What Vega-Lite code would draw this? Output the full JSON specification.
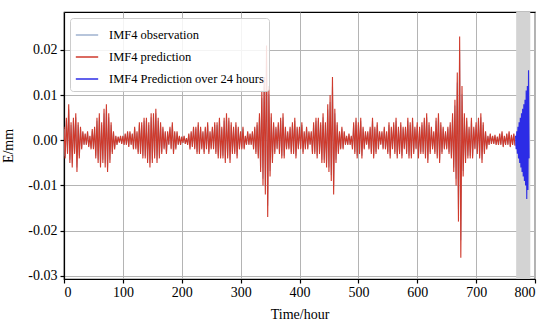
{
  "$schema": "https://vega.github.io/schema/vega-lite/v6.json",
  "width": 471,
  "height": 267,
  "autosize": "none",
  "padding": {"left": 64, "top": 12, "right": 15, "bottom": 45},
  "background": "white",
  "config": {
    "font": "Times New Roman",
    "view": {"stroke": "black", "strokeWidth": 1.2},
    "axis": {
      "labelFont": "Times New Roman",
      "titleFont": "Times New Roman",
      "labelFontSize": 14,
      "titleFontSize": 14,
      "titleFontWeight": "normal",
      "labelColor": "black",
      "titleColor": "black",
      "grid": true,
      "gridColor": "#b4b4b4",
      "gridOpacity": 1,
      "gridWidth": 1,
      "domainColor": "black",
      "domainWidth": 1.2,
      "tickColor": "black",
      "tickWidth": 1.2
    },
    "legend": {
      "labelFont": "Times New Roman",
      "labelFontSize": 12.5,
      "labelColor": "black",
      "labelLimit": 0
    }
  },
  "datasets": {
    "series": [
      {"t":0,"o":0.0025,"p":0.003},{"t":2,"o":-0.0035,"p":-0.004},{"t":4,"o":0.0042,"p":0.005},{"t":6,"o":-0.0026,"p":-0.003},{"t":8,"o":0.0068,"p":0.008},
      {"t":10,"o":-0.0043,"p":-0.005},{"t":12,"o":0.0034,"p":0.004},{"t":14,"o":-0.0051,"p":-0.006},{"t":16,"o":0.0043,"p":0.005},{"t":18,"o":-0.0026,"p":-0.003},
      {"t":20,"o":0.0051,"p":0.006},{"t":22,"o":-0.006,"p":-0.007},{"t":24,"o":0.0034,"p":0.004},{"t":26,"o":-0.0034,"p":-0.004},{"t":28,"o":0.0026,"p":0.003},
      {"t":30,"o":-0.0017,"p":-0.002},{"t":32,"o":0.0017,"p":0.002},{"t":34,"o":-0.0009,"p":-0.001},{"t":36,"o":0.0013,"p":0.0015},{"t":38,"o":-0.0009,"p":-0.001},
      {"t":40,"o":0.0017,"p":0.002},{"t":42,"o":-0.0013,"p":-0.0015},{"t":44,"o":0.0009,"p":0.001},{"t":46,"o":-0.0017,"p":-0.002},{"t":48,"o":0.0021,"p":0.0025},
      {"t":50,"o":-0.0017,"p":-0.002},{"t":52,"o":0.0026,"p":0.003},{"t":54,"o":-0.0034,"p":-0.004},{"t":56,"o":0.0043,"p":0.005},{"t":58,"o":-0.0043,"p":-0.005},
      {"t":60,"o":0.0051,"p":0.006},{"t":62,"o":-0.0051,"p":-0.006},{"t":64,"o":0.0034,"p":0.004},{"t":66,"o":-0.0043,"p":-0.005},{"t":68,"o":0.006,"p":0.007},
      {"t":70,"o":-0.0051,"p":-0.006},{"t":72,"o":0.0068,"p":0.008},{"t":74,"o":-0.006,"p":-0.007},{"t":76,"o":0.0051,"p":0.006},{"t":78,"o":-0.0043,"p":-0.005},
      {"t":80,"o":0.0034,"p":0.004},{"t":82,"o":-0.0026,"p":-0.003},{"t":84,"o":0.0017,"p":0.002},{"t":86,"o":-0.0017,"p":-0.002},{"t":88,"o":0.0009,"p":0.001},
      {"t":90,"o":-0.0009,"p":-0.001},{"t":92,"o":0.0007,"p":0.0008},{"t":94,"o":-0.0004,"p":-0.0005},{"t":96,"o":0.0009,"p":0.001},{"t":98,"o":-0.0007,"p":-0.0008},
      {"t":100,"o":0.0009,"p":0.001},{"t":102,"o":-0.0009,"p":-0.001},{"t":104,"o":0.0013,"p":0.0015},{"t":106,"o":-0.0009,"p":-0.001},{"t":108,"o":0.0017,"p":0.002},
      {"t":110,"o":-0.0013,"p":-0.0015},{"t":112,"o":0.0017,"p":0.002},{"t":114,"o":-0.0009,"p":-0.001},{"t":116,"o":0.0013,"p":0.0015},{"t":118,"o":-0.0017,"p":-0.002},
      {"t":120,"o":0.0026,"p":0.003},{"t":122,"o":-0.0017,"p":-0.002},{"t":124,"o":0.0017,"p":0.002},{"t":126,"o":-0.0026,"p":-0.003},{"t":128,"o":0.0034,"p":0.004},
      {"t":130,"o":-0.0026,"p":-0.003},{"t":132,"o":0.0034,"p":0.004},{"t":134,"o":-0.0034,"p":-0.004},{"t":136,"o":0.0043,"p":0.005},{"t":138,"o":-0.0034,"p":-0.004},
      {"t":140,"o":0.0043,"p":0.005},{"t":142,"o":-0.0043,"p":-0.005},{"t":144,"o":0.0034,"p":0.004},{"t":146,"o":-0.0051,"p":-0.006},{"t":148,"o":0.0051,"p":0.006},
      {"t":150,"o":-0.0043,"p":-0.005},{"t":152,"o":0.0051,"p":0.006},{"t":154,"o":-0.0034,"p":-0.004},{"t":156,"o":0.006,"p":0.007},{"t":158,"o":-0.0043,"p":-0.005},
      {"t":160,"o":0.0043,"p":0.005},{"t":162,"o":-0.0034,"p":-0.004},{"t":164,"o":0.0034,"p":0.004},{"t":166,"o":-0.0026,"p":-0.003},{"t":168,"o":0.0026,"p":0.003},
      {"t":170,"o":-0.0017,"p":-0.002},{"t":172,"o":0.0017,"p":0.002},{"t":174,"o":-0.0026,"p":-0.003},{"t":176,"o":0.0017,"p":0.002},{"t":178,"o":-0.0009,"p":-0.001},
      {"t":180,"o":0.0026,"p":0.003},{"t":182,"o":-0.0017,"p":-0.002},{"t":184,"o":0.0034,"p":0.004},{"t":186,"o":-0.0026,"p":-0.003},{"t":188,"o":0.0017,"p":0.002},
      {"t":190,"o":-0.0017,"p":-0.002},{"t":192,"o":0.0017,"p":0.002},{"t":194,"o":-0.0009,"p":-0.001},{"t":196,"o":0.0009,"p":0.001},{"t":198,"o":-0.0009,"p":-0.001},
      {"t":200,"o":0.0007,"p":0.0008},{"t":202,"o":-0.0005,"p":-0.0006},{"t":204,"o":0.0009,"p":0.001},{"t":206,"o":-0.0007,"p":-0.0008},{"t":208,"o":0.0004,"p":0.0005},
      {"t":210,"o":-0.0009,"p":-0.001},{"t":212,"o":0.0013,"p":0.0015},{"t":214,"o":-0.0017,"p":-0.002},{"t":216,"o":0.0017,"p":0.002},{"t":218,"o":-0.0013,"p":-0.0015},
      {"t":220,"o":0.0026,"p":0.003},{"t":222,"o":-0.0017,"p":-0.002},{"t":224,"o":0.0026,"p":0.003},{"t":226,"o":-0.0026,"p":-0.003},{"t":228,"o":0.0034,"p":0.004},
      {"t":230,"o":-0.0026,"p":-0.003},{"t":232,"o":0.0026,"p":0.003},{"t":234,"o":-0.0017,"p":-0.002},{"t":236,"o":0.0017,"p":0.002},{"t":238,"o":-0.0026,"p":-0.003},
      {"t":240,"o":0.0026,"p":0.003},{"t":242,"o":-0.0017,"p":-0.002},{"t":244,"o":0.0034,"p":0.004},{"t":246,"o":-0.0026,"p":-0.003},{"t":248,"o":0.0017,"p":0.002},
      {"t":250,"o":-0.0017,"p":-0.002},{"t":252,"o":0.0026,"p":0.003},{"t":254,"o":-0.0017,"p":-0.002},{"t":256,"o":0.0034,"p":0.004},{"t":258,"o":-0.0026,"p":-0.003},
      {"t":260,"o":0.0034,"p":0.004},{"t":262,"o":-0.0034,"p":-0.004},{"t":264,"o":0.0043,"p":0.005},{"t":266,"o":-0.0034,"p":-0.004},{"t":268,"o":0.0026,"p":0.003},
      {"t":270,"o":-0.0034,"p":-0.004},{"t":272,"o":0.0043,"p":0.005},{"t":274,"o":-0.0043,"p":-0.005},{"t":276,"o":0.0051,"p":0.006},{"t":278,"o":-0.0034,"p":-0.004},
      {"t":280,"o":0.0043,"p":0.005},{"t":282,"o":-0.0043,"p":-0.005},{"t":284,"o":0.0034,"p":0.004},{"t":286,"o":-0.0026,"p":-0.003},{"t":288,"o":0.0026,"p":0.003},
      {"t":290,"o":-0.0026,"p":-0.003},{"t":292,"o":0.0034,"p":0.004},{"t":294,"o":-0.0034,"p":-0.004},{"t":296,"o":0.0026,"p":0.003},{"t":298,"o":-0.0017,"p":-0.002},
      {"t":300,"o":0.0017,"p":0.002},{"t":302,"o":-0.0017,"p":-0.002},{"t":304,"o":0.0026,"p":0.003},{"t":306,"o":-0.0017,"p":-0.002},{"t":308,"o":0.0009,"p":0.001},
      {"t":310,"o":-0.0009,"p":-0.001},{"t":312,"o":0.0017,"p":0.002},{"t":314,"o":-0.0009,"p":-0.001},{"t":316,"o":0.0013,"p":0.0015},{"t":318,"o":-0.0009,"p":-0.001},
      {"t":320,"o":0.0017,"p":0.002},{"t":322,"o":-0.0017,"p":-0.002},{"t":324,"o":0.0026,"p":0.003},{"t":326,"o":-0.0026,"p":-0.003},{"t":328,"o":0.0034,"p":0.004},
      {"t":330,"o":-0.0034,"p":-0.004},{"t":332,"o":0.0051,"p":0.006},{"t":334,"o":-0.006,"p":-0.007},{"t":336,"o":0.0094,"p":0.011},{"t":338,"o":-0.0085,"p":-0.01},
      {"t":340,"o":0.0119,"p":0.014},{"t":342,"o":-0.0102,"p":-0.012},{"t":344,"o":0.0179,"p":0.021},{"t":346,"o":-0.0145,"p":-0.017},{"t":348,"o":0.0102,"p":0.012},
      {"t":350,"o":-0.0068,"p":-0.008},{"t":352,"o":0.0051,"p":0.006},{"t":354,"o":-0.0043,"p":-0.005},{"t":356,"o":0.0034,"p":0.004},{"t":358,"o":-0.0026,"p":-0.003},
      {"t":360,"o":0.0026,"p":0.003},{"t":362,"o":-0.0017,"p":-0.002},{"t":364,"o":0.0034,"p":0.004},{"t":366,"o":-0.0026,"p":-0.003},{"t":368,"o":0.0043,"p":0.005},
      {"t":370,"o":-0.0034,"p":-0.004},{"t":372,"o":0.0051,"p":0.006},{"t":374,"o":-0.0034,"p":-0.004},{"t":376,"o":0.0026,"p":0.003},{"t":378,"o":-0.0017,"p":-0.002},
      {"t":380,"o":0.0017,"p":0.002},{"t":382,"o":-0.0017,"p":-0.002},{"t":384,"o":0.0026,"p":0.003},{"t":386,"o":-0.0026,"p":-0.003},{"t":388,"o":0.0034,"p":0.004},
      {"t":390,"o":-0.0026,"p":-0.003},{"t":392,"o":0.0043,"p":0.005},{"t":394,"o":-0.0034,"p":-0.004},{"t":396,"o":0.0026,"p":0.003},{"t":398,"o":-0.0017,"p":-0.002},
      {"t":400,"o":0.0026,"p":0.003},{"t":402,"o":-0.0017,"p":-0.002},{"t":404,"o":0.0034,"p":0.004},{"t":406,"o":-0.0026,"p":-0.003},{"t":408,"o":0.0017,"p":0.002},
      {"t":410,"o":-0.0017,"p":-0.002},{"t":412,"o":0.0026,"p":0.003},{"t":414,"o":-0.0017,"p":-0.002},{"t":416,"o":0.0017,"p":0.002},{"t":418,"o":-0.0009,"p":-0.001},
      {"t":420,"o":0.0017,"p":0.002},{"t":422,"o":-0.0026,"p":-0.003},{"t":424,"o":0.0034,"p":0.004},{"t":426,"o":-0.0026,"p":-0.003},{"t":428,"o":0.0043,"p":0.005},
      {"t":430,"o":-0.0034,"p":-0.004},{"t":432,"o":0.0043,"p":0.005},{"t":434,"o":-0.0026,"p":-0.003},{"t":436,"o":0.0034,"p":0.004},{"t":438,"o":-0.0043,"p":-0.005},
      {"t":440,"o":0.0051,"p":0.006},{"t":442,"o":-0.0043,"p":-0.005},{"t":444,"o":0.0034,"p":0.004},{"t":446,"o":-0.0051,"p":-0.006},{"t":448,"o":0.0068,"p":0.008},
      {"t":450,"o":-0.006,"p":-0.007},{"t":452,"o":0.0085,"p":0.01},{"t":454,"o":-0.0077,"p":-0.009},{"t":456,"o":0.0119,"p":0.014},{"t":458,"o":-0.0102,"p":-0.012},
      {"t":460,"o":0.006,"p":0.007},{"t":462,"o":-0.0043,"p":-0.005},{"t":464,"o":0.0034,"p":0.004},{"t":466,"o":-0.0026,"p":-0.003},{"t":468,"o":0.0017,"p":0.002},
      {"t":470,"o":-0.0017,"p":-0.002},{"t":472,"o":0.0026,"p":0.003},{"t":474,"o":-0.0017,"p":-0.002},{"t":476,"o":0.0017,"p":0.002},{"t":478,"o":-0.0009,"p":-0.001},
      {"t":480,"o":0.0009,"p":0.001},{"t":482,"o":-0.0009,"p":-0.001},{"t":484,"o":0.0013,"p":0.0015},{"t":486,"o":-0.0009,"p":-0.001},{"t":488,"o":0.0009,"p":0.001},
      {"t":490,"o":-0.0017,"p":-0.002},{"t":492,"o":0.0034,"p":0.004},{"t":494,"o":-0.0026,"p":-0.003},{"t":496,"o":0.0043,"p":0.005},{"t":498,"o":-0.0034,"p":-0.004},
      {"t":500,"o":0.0034,"p":0.004},{"t":502,"o":-0.0026,"p":-0.003},{"t":504,"o":0.0043,"p":0.005},{"t":506,"o":-0.0034,"p":-0.004},{"t":508,"o":0.0026,"p":0.003},
      {"t":510,"o":-0.0017,"p":-0.002},{"t":512,"o":0.0017,"p":0.002},{"t":514,"o":-0.0009,"p":-0.001},{"t":516,"o":0.0017,"p":0.002},{"t":518,"o":-0.0017,"p":-0.002},
      {"t":520,"o":0.0026,"p":0.003},{"t":522,"o":-0.0026,"p":-0.003},{"t":524,"o":0.0043,"p":0.005},{"t":526,"o":-0.0034,"p":-0.004},{"t":528,"o":0.0026,"p":0.003},
      {"t":530,"o":-0.0026,"p":-0.003},{"t":532,"o":0.0034,"p":0.004},{"t":534,"o":-0.0017,"p":-0.002},{"t":536,"o":0.0017,"p":0.002},{"t":538,"o":-0.0009,"p":-0.001},
      {"t":540,"o":0.0017,"p":0.002},{"t":542,"o":-0.0017,"p":-0.002},{"t":544,"o":0.0026,"p":0.003},{"t":546,"o":-0.0017,"p":-0.002},{"t":548,"o":0.0017,"p":0.002},
      {"t":550,"o":-0.0026,"p":-0.003},{"t":552,"o":0.0034,"p":0.004},{"t":554,"o":-0.0034,"p":-0.004},{"t":556,"o":0.0026,"p":0.003},{"t":558,"o":-0.0017,"p":-0.002},
      {"t":560,"o":0.0034,"p":0.004},{"t":562,"o":-0.0026,"p":-0.003},{"t":564,"o":0.0043,"p":0.005},{"t":566,"o":-0.0034,"p":-0.004},{"t":568,"o":0.0026,"p":0.003},
      {"t":570,"o":-0.0026,"p":-0.003},{"t":572,"o":0.0034,"p":0.004},{"t":574,"o":-0.0034,"p":-0.004},{"t":576,"o":0.0026,"p":0.003},{"t":578,"o":-0.0017,"p":-0.002},
      {"t":580,"o":0.0026,"p":0.003},{"t":582,"o":-0.0026,"p":-0.003},{"t":584,"o":0.0043,"p":0.005},{"t":586,"o":-0.0034,"p":-0.004},{"t":588,"o":0.0034,"p":0.004},
      {"t":590,"o":-0.0034,"p":-0.004},{"t":592,"o":0.0043,"p":0.005},{"t":594,"o":-0.0026,"p":-0.003},{"t":596,"o":0.0026,"p":0.003},{"t":598,"o":-0.0017,"p":-0.002},
      {"t":600,"o":0.0034,"p":0.004},{"t":602,"o":-0.0034,"p":-0.004},{"t":604,"o":0.0026,"p":0.003},{"t":606,"o":-0.0026,"p":-0.003},{"t":608,"o":0.0034,"p":0.004},
      {"t":610,"o":-0.0026,"p":-0.003},{"t":612,"o":0.0043,"p":0.005},{"t":614,"o":-0.0034,"p":-0.004},{"t":616,"o":0.0051,"p":0.006},{"t":618,"o":-0.0043,"p":-0.005},
      {"t":620,"o":0.0034,"p":0.004},{"t":622,"o":-0.0026,"p":-0.003},{"t":624,"o":0.0026,"p":0.003},{"t":626,"o":-0.0017,"p":-0.002},{"t":628,"o":0.0017,"p":0.002},
      {"t":630,"o":-0.0026,"p":-0.003},{"t":632,"o":0.0043,"p":0.005},{"t":634,"o":-0.0034,"p":-0.004},{"t":636,"o":0.0051,"p":0.006},{"t":638,"o":-0.0043,"p":-0.005},
      {"t":640,"o":0.0034,"p":0.004},{"t":642,"o":-0.0026,"p":-0.003},{"t":644,"o":0.0026,"p":0.003},{"t":646,"o":-0.0017,"p":-0.002},{"t":648,"o":0.0017,"p":0.002},
      {"t":650,"o":-0.0017,"p":-0.002},{"t":652,"o":0.0026,"p":0.003},{"t":654,"o":-0.0026,"p":-0.003},{"t":656,"o":0.0034,"p":0.004},{"t":658,"o":-0.0034,"p":-0.004},
      {"t":660,"o":0.0051,"p":0.006},{"t":662,"o":-0.006,"p":-0.007},{"t":664,"o":0.0077,"p":0.009},{"t":666,"o":-0.0085,"p":-0.01},{"t":668,"o":0.0128,"p":0.015},
      {"t":670,"o":-0.0153,"p":-0.018},{"t":672,"o":0.0196,"p":0.023},{"t":674,"o":-0.0221,"p":-0.026},{"t":676,"o":0.0102,"p":0.012},{"t":678,"o":-0.0068,"p":-0.008},
      {"t":680,"o":0.0051,"p":0.006},{"t":682,"o":-0.0043,"p":-0.005},{"t":684,"o":0.0043,"p":0.005},{"t":686,"o":-0.0034,"p":-0.004},{"t":688,"o":0.0026,"p":0.003},
      {"t":690,"o":-0.0034,"p":-0.004},{"t":692,"o":0.0043,"p":0.005},{"t":694,"o":-0.0034,"p":-0.004},{"t":696,"o":0.0026,"p":0.003},{"t":698,"o":-0.0017,"p":-0.002},
      {"t":700,"o":0.0034,"p":0.004},{"t":702,"o":-0.0026,"p":-0.003},{"t":704,"o":0.0043,"p":0.005},{"t":706,"o":-0.0034,"p":-0.004},{"t":708,"o":0.0051,"p":0.006},
      {"t":710,"o":-0.0043,"p":-0.005},{"t":712,"o":0.0034,"p":0.004},{"t":714,"o":-0.0026,"p":-0.003},{"t":716,"o":0.0017,"p":0.002},{"t":718,"o":-0.0017,"p":-0.002},
      {"t":720,"o":0.0009,"p":0.001},{"t":722,"o":-0.0009,"p":-0.001},{"t":724,"o":0.0013,"p":0.0015},{"t":726,"o":-0.0007,"p":-0.0008},{"t":728,"o":0.0009,"p":0.001},
      {"t":730,"o":-0.0007,"p":-0.0008},{"t":732,"o":0.001,"p":0.0012},{"t":734,"o":-0.0009,"p":-0.001},{"t":736,"o":0.0007,"p":0.0008},{"t":738,"o":-0.0009,"p":-0.001},
      {"t":740,"o":0.0013,"p":0.0015},{"t":742,"o":-0.0009,"p":-0.001},{"t":744,"o":0.0017,"p":0.002},{"t":746,"o":-0.0013,"p":-0.0015},{"t":748,"o":0.0009,"p":0.001},
      {"t":750,"o":-0.0009,"p":-0.001},{"t":752,"o":0.0013,"p":0.0015},{"t":754,"o":-0.0009,"p":-0.001},{"t":756,"o":0.0017,"p":0.002},{"t":758,"o":-0.0013,"p":-0.0015},
      {"t":760,"o":0.001,"p":0.0012},{"t":762,"o":-0.0009,"p":-0.001},{"t":764,"o":0.0013,"p":0.0015},{"t":766,"o":-0.001,"p":-0.0012}
    ],
    "future": [
      {"t":767,"f":0.001},{"t":768,"f":-0.002},{"t":769,"f":0.002},{"t":770,"f":-0.003},{"t":771,"f":0.003},
      {"t":772,"f":-0.004},{"t":773,"f":0.004},{"t":774,"f":-0.005},{"t":775,"f":0.005},{"t":776,"f":-0.006},
      {"t":777,"f":0.006},{"t":778,"f":-0.007},{"t":779,"f":0.007},{"t":780,"f":-0.008},{"t":781,"f":0.008},
      {"t":782,"f":-0.009},{"t":783,"f":0.009},{"t":784,"f":-0.010},{"t":785,"f":0.011},{"t":786,"f":-0.013},
      {"t":787,"f":0.012},{"t":788,"f":-0.011},{"t":789,"f":0.0155},{"t":790,"f":-0.004}
    ],
    "band": [{"a":768,"b":792}]
  },
  "layer": [
    {
      "data": {"name": "band"},
      "mark": {"type": "rect", "color": "#d3d3d3", "opacity": 1},
      "encoding": {
        "x": {
          "field": "a", "type": "quantitative",
          "scale": {"domain": [0, 800], "nice": false, "zero": false},
          "axis": {"title": "Time/hour", "grid": true, "gridColor": "#b4b4b4", "values": [0,100,200,300,400,500,600,700,800], "tickSize": 4, "labelPadding": 2, "titlePadding": 8}
        },
        "x2": {"field": "b"}
      }
    },
    {
      "data": {"name": "series"},
      "mark": {"type": "line", "strokeWidth": 1.1, "clip": true},
      "encoding": {
        "x": {"field": "t", "type": "quantitative"},
        "y": {
          "field": "o", "type": "quantitative",
          "scale": {"domain": [-0.0307, 0.0284], "nice": false, "zero": false},
          "axis": {"title": "E/mm", "grid": true, "gridColor": "#b4b4b4", "values": [-0.03,-0.02,-0.01,0,0.01,0.02], "tickSize": 4, "labelExpr": "replace(format(datum.value, '.2f'), '\u2212', '-')", "labelPadding": 3, "titlePadding": 12}
        },
        "color": {
          "datum": "IMF4 observation",
          "scale": {
            "domain": ["IMF4 observation", "IMF4 prediction", "IMF4 Prediction over 24 hours"],
            "range": ["#9fb2cf", "#cf3a2c", "#2c2ce6"]
          },
          "legend": {
            "title": null,
            "orient": "top-left",
            "offset": 6,
            "symbolType": "stroke",
            "symbolSize": 500,
            "symbolStrokeWidth": 1.5,
            "fillColor": "rgba(255,255,255,0.85)",
            "strokeColor": "#cccccc",
            "cornerRadius": 3,
            "padding": 5,
            "rowPadding": 3,
            "labelOffset": 10,
            "labelLimit": 0
          }
        }
      }
    },
    {
      "data": {"name": "series"},
      "mark": {"type": "line", "strokeWidth": 1.1, "clip": true},
      "encoding": {
        "x": {"field": "t", "type": "quantitative"},
        "y": {"field": "p", "type": "quantitative"},
        "color": {"datum": "IMF4 prediction"}
      }
    },
    {
      "data": {"name": "future"},
      "mark": {"type": "line", "strokeWidth": 1.1, "clip": true},
      "encoding": {
        "x": {"field": "t", "type": "quantitative"},
        "y": {"field": "f", "type": "quantitative"},
        "color": {"datum": "IMF4 Prediction over 24 hours"}
      }
    }
  ]
}
